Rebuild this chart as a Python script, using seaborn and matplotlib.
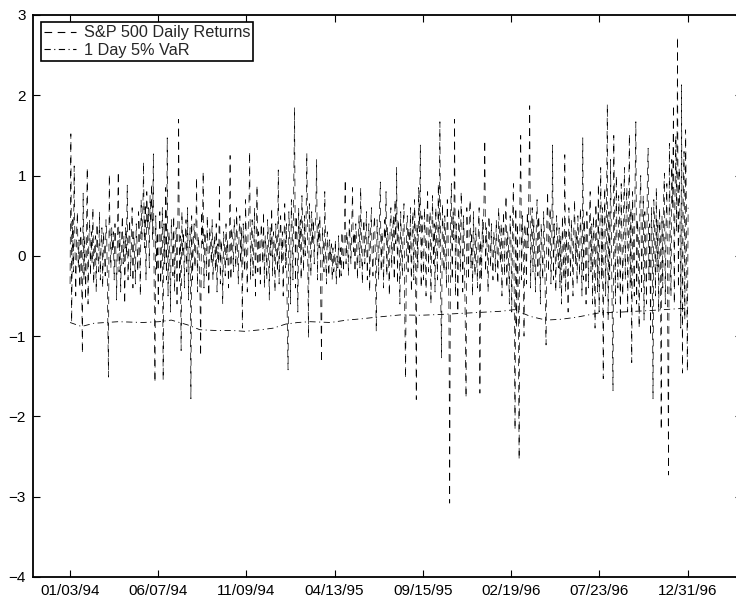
import numpy as np
import pandas as pd
import matplotlib
matplotlib.use("Agg")
import matplotlib.pyplot as plt
import seaborn as sns

# ---- data ----
returns = [
    -0.35, 1.52, -0.83, 0.45, -0.2, 1.12, 0.1, -0.5, 0.3, 0.55, -0.15, 0.2, -0.4, 0.35, 0.05, -1.22, 0.78, -0.3, 0.25, -0.55,
    0.15, 1.10, -0.6, 0.2, 0.45, -0.25, 0.3, -0.1, 0.6, -0.35, 0.1, 0.25, -0.45, 0.4, 0.0, -0.2, 0.55, -0.3, 0.15, 0.35,
    -0.4, 0.3, 0.1, -0.25, 0.45, 0.2, -0.6, -1.51, 1.02, 0.25, -0.15, 0.35, 0.05, 0.3, -0.3, 0.4, 0.1, -0.55, 0.2, 1.05,
    -0.2, 0.3, -0.45, 0.15, 0.5, -0.1, 0.25, -0.6, 0.35, 0.0, 0.88, -0.3, 0.2, 0.45, -0.25, 0.1, 0.6, -0.4, 0.3, 0.05,
    -0.35, 0.4, 0.15, -0.2, 0.55, 0.3, -0.5, 0.7, 0.2, 0.45, 1.17, 0.1, 0.65, -0.3, 0.8, 0.35, 0.6, -0.15, 0.75, 0.4,
    0.9, 0.2, 1.27, -0.4, -1.58, 0.5, -0.2, 0.3, -0.6, 0.25, 0.55, -0.35, 0.15, 0.6, -1.55, 0.4, -0.1, 0.85, -0.3, 1.47,
    -0.5, 0.3, 0.1, -0.7, 0.45, 0.2, -0.25, 0.5, -0.45, 0.15, 0.35, -0.6, 0.4, 1.7, -0.35, 0.25, -1.18, 0.55, 0.0, 0.3,
    -0.4, 0.2, 0.45, -0.2, 0.6, -0.55, 0.1, 0.35, -1.78, 0.5, -0.3, 0.2, 0.4, -0.15, 0.3, 0.98, -0.45, 0.25, 0.1, -0.35,
    -1.25, 0.55, 0.15, 1.05, -0.4, 0.3, 0.2, -0.25, 0.5, 0.05, -0.5, 0.35, 0.2, -0.1, 0.45, -0.3, 0.1, 0.25, -0.2, 0.4,
    -0.45, 0.15, -0.1, 0.9, -0.35, 0.2, 0.05, -0.6, 0.3, 0.15, -0.25, 0.4, -0.05, 0.2, -0.4, 0.1, 1.25, -0.3, 0.35, 0.2,
    -0.2, 0.45, 0.25, -0.15, 0.6, 0.1, -0.35, 0.3, 0.5, -0.1, 0.35, -0.9, 0.4, 0.15, -0.2, 0.7, 0.05, -0.45, 0.3, 0.55,
    1.3, -0.3, 0.2, 0.45, -0.25, 0.1, 0.6, -0.5, 0.15, 0.88, -0.2, 0.3, 0.05, -0.35, 0.4, 0.2, -0.1, 0.55, -0.4, 0.25,
    0.1, -0.3, 0.45, 0.2, -0.55, 0.35, 0.0, 0.6, -0.25, 0.3, 0.15, -0.45, 0.4, 0.1, -0.2, 1.07, -0.35, 0.25, 0.5, -0.1,
    0.3, -0.5, 0.2, 0.65, -0.15, 0.4, -0.8, -1.42, 0.55, 0.2, -0.6, 0.7, 0.35, -0.3, 0.9, 1.85, -0.4, 0.5, 0.25, -0.7,
    0.6, 0.1, 0.45, -0.3, 0.75, 0.3, -0.2, 0.5, 0.0, 0.4, 1.28, 0.2, -1.02, 0.65, 0.35, -0.25, 0.55, 0.15, 0.45, -0.1,
    0.3, 0.6, 1.2, -0.3, 0.4, 0.1, 0.5, -0.5, -1.33, 0.35, 0.2, -0.2, 0.8, 0.05, -0.35, 0.3, 0.1, -0.25, 0.2, -0.05,
    0.15, -0.3, 0.1, -0.2, -0.05, 0.2, -0.35, 0.0, -0.15, 0.25, -0.3, 0.1, -0.25, 0.3, 0.05, -0.2, 0.4, 0.95, -0.1, 0.3,
    0.15, -0.25, 0.45, 0.2, -0.1, 0.35, 0.85, 0.05, 0.3, -0.2, 0.4, 0.15, -0.3, 0.25, 0.5, -0.15, 0.85, 0.1, -0.35, 0.3,
    0.45, -0.1, 0.2, 0.55, -0.3, 0.15, 0.4, -0.45, 0.25, 0.6, 0.0, -0.25, 0.35, 0.5, -0.1, -0.94, 0.45, 0.2, -0.3, 0.55,
    0.92, -0.2, 0.3, 0.1, -0.4, 0.45, 0.2, 0.8, -0.25, 0.35, 0.05, -0.5, 0.4, 0.6, -0.15, 0.25, 0.5, -0.3, 0.7, 0.15,
    1.1, -0.35, 0.45, 0.2, -0.6, 0.55, 0.1, -0.25, 0.4, 0.65, -0.8, -1.53, 0.3, 0.5, -0.2, 0.35, 0.0, 0.6, -0.45, 0.25,
    0.55, -0.3, 0.7, 0.2, -1.79, 0.4, -0.15, 0.85, 0.3, 1.38, -0.4, 0.5, 0.1, -0.3, 0.6, 0.25, -0.5, 0.45, 0.8, -0.2,
    0.35, 0.55, -0.6, 0.3, 0.75, -0.1, 0.4, -0.45, 0.6, 0.2, -0.3, 0.9, 0.1, 1.67, -0.5, -1.27, 0.65, 0.3, -0.2, 0.5,
    0.15, -0.4, 0.7, 0.3, -0.6, -3.08, 0.45, 0.9, -0.3, 0.55, 0.2, 1.7, -0.5, 0.4, 0.1, -0.7, 0.6, 0.25, -0.2, 0.8,
    0.35, -0.45, 0.5, 0.1, -0.8, -1.77, 0.6, 0.2, -0.3, 0.45, 0.7, -0.15, 0.3, -0.5, 0.55, 0.1, -0.25, 0.35, 0.0, -0.4,
    0.3, 0.6, -1.71, 0.2, -0.3, 0.45, 0.1, 0.7, 1.44, -0.2, 0.35, 0.05, -0.45, 0.5, 0.25, -0.15, 0.4, 0.0, -0.3, 0.3,
    0.15, -0.2, 0.45, 0.1, -0.35, 0.6, 0.25, -0.1, 0.4, -0.5, 0.2, 0.55, -0.25, 0.35, 0.75, -0.4, 0.3, 0.1, -0.6, 0.5,
    0.2, -0.7, 0.45, 0.9, -0.5, -2.17, 0.6, -0.9, 0.4, -0.6, -2.54, 0.7, 1.5, -0.3, 0.5, 0.15, -1.0, 0.4, 0.2, -0.35,
    0.55, 0.1, 0.9, 1.87, -0.4, 0.3, 0.6, -0.2, 0.45, 0.0, -0.45, 0.35, 0.7, -0.25, 0.5, 0.2, -0.6, 0.4, 0.1, -0.3,
    0.55, 0.25, -0.5, -1.11, 0.45, 0.8, -0.2, 0.3, 0.6, -0.35, 0.15, 1.38, -0.3, 0.4, 0.1, -0.45, 0.5, 0.2, -0.15, 0.35,
    -0.4, 0.25, -0.6, 0.5, 0.1, -0.3, 1.26, -0.45, 0.3, 0.05, -0.7, 0.6, 0.2, -0.25, 0.45, 0.15, -0.5, 0.35, 0.7, -0.1,
    0.3, -0.35, 0.5, 0.1, -0.25, 0.6, 0.25, -0.5, 1.47, -0.3, 0.45, 0.15, -0.6, 0.55, 0.2, -0.4, 0.35, 0.8, -0.2, 0.4,
    -0.6, 0.5, 0.2, -0.9, 0.65, 0.3, -0.45, 0.9, -0.7, 0.4, 1.1, -0.3, 0.6, -1.53, 0.3, 0.85, -0.5, 0.4, 1.89, -0.8,
    0.55, -0.3, 1.2, 0.2, -0.9, -1.68, 1.5, 0.3, -0.6, 1.0, 0.1, -0.4, 0.75, 0.45, -0.8, 0.9, 0.2, -0.5, 0.6, 1.1,
    -0.3, 0.5, 0.85, -0.7, 0.35, 1.52, -0.4, 0.6, -1.33, 0.8, 0.15, -0.5, 0.9, 1.67, -0.6, 0.45, 0.2, -0.9, 0.7, 1.0,
    -0.45, 0.3, 0.75, -0.8, 0.55, 0.1, -0.6, 0.9, 1.34, -0.3, 0.4, -1.0, 0.6, 0.2, -1.78, 0.7, 0.35, -0.5, 0.85, -0.2,
    0.45, -0.7, 0.6, 0.2, -2.17, 0.5, -0.4, 0.75, 1.03, -0.6, 0.4, 0.9, -1.0, -2.73, 1.4, 0.3, -0.5, 1.2, 0.6, 1.88,
    -0.6, 0.8, 1.5, 0.3, 2.73, -0.4, 1.1, 0.5, -0.9, 2.13, -1.46, 0.7, 1.3, -0.8, 1.57, 0.4, -1.44, 0.6,
]
days = list(range(1, len(returns) + 1))

var_days = [1, 15, 30, 60, 90, 110, 125, 145, 160, 180, 200, 215, 235, 250, 265, 280, 295, 320,
            340, 357, 380, 406, 430, 455, 492, 529, 545, 565, 584, 602, 621, 649, 676, 713, 758]
var_values = [-0.83, -0.88, -0.84, -0.82, -0.83, -0.82, -0.80, -0.86, -0.92, -0.93, -0.93, -0.94,
              -0.92, -0.90, -0.85, -0.83, -0.82, -0.83, -0.80, -0.785, -0.76, -0.735, -0.74, -0.73,
              -0.71, -0.69, -0.67, -0.755, -0.80, -0.79, -0.765, -0.71, -0.70, -0.68, -0.65]

tick_days = [1, 109, 217, 325, 433, 541, 649, 758]
tick_labels = ["01/03/94", "06/07/94", "11/09/94", "04/13/95",
               "09/15/95", "02/19/96", "07/23/96", "12/31/96"]
y_ticks = [-4, -3, -2, -1, 0, 1, 2, 3]

# ---- plotting ----
sns.set_style("ticks")
plt.rcParams['font.family'] = ['Liberation Sans', 'DejaVu Sans']
plt.rcParams['lines.scale_dashes'] = False
plt.rcParams['axes.unicode_minus'] = True

W, H = 736, 603
fig = plt.figure(figsize=(W / 100, H / 100), dpi=100)
ax = fig.add_axes([33 / W, 26 / H, (742 - 33) / W, (577 - 15) / H])

df_ret = pd.DataFrame({"day": days, "ret": returns})
df_var = pd.DataFrame({"day": var_days, "var": var_values})

sns.lineplot(data=df_ret, x="day", y="ret", ax=ax, color="black", linewidth=0.5,
             linestyle=(0, (5.5, 4.0)), sort=False, errorbar=None,
             label="S&P 500 Daily Returns")
sns.lineplot(data=df_var, x="day", y="var", ax=ax, color="black", linewidth=0.6,
             linestyle=(0, (4.5, 2.5, 0.8, 2.5)), sort=False, errorbar=None,
             label="1 Day 5% VaR")

ax.set_xlim(-44.4, 824)
ax.set_ylim(-4, 3)
ax.set_xticks(tick_days)
ax.set_xticklabels(tick_labels)
ax.set_yticks(y_ticks)
ax.set_yticklabels([str(v).replace("-", "\u2212") for v in y_ticks])
ax.set_xlabel("")
ax.set_ylabel("")
ax.tick_params(direction="in", top=True, right=True, length=5, width=0.8,
               labelsize=11, colors="black", pad=5)
for s in ax.spines.values():
    s.set_visible(True)
    s.set_linewidth(1.3)
    s.set_color("black")

leg = ax.legend(loc="upper left", bbox_to_anchor=(7.5 / 709, 1 - 7 / 562),
                fontsize=11.7, frameon=True, fancybox=False, edgecolor="black",
                framealpha=1, handlelength=2.0, handletextpad=0.45,
                borderpad=0.2, labelspacing=0.15, borderaxespad=0)
leg.get_frame().set_linewidth(1.2)
for h in leg.get_lines():
    h.set_linewidth(0.8)

fig.savefig("out.png", dpi=100)
